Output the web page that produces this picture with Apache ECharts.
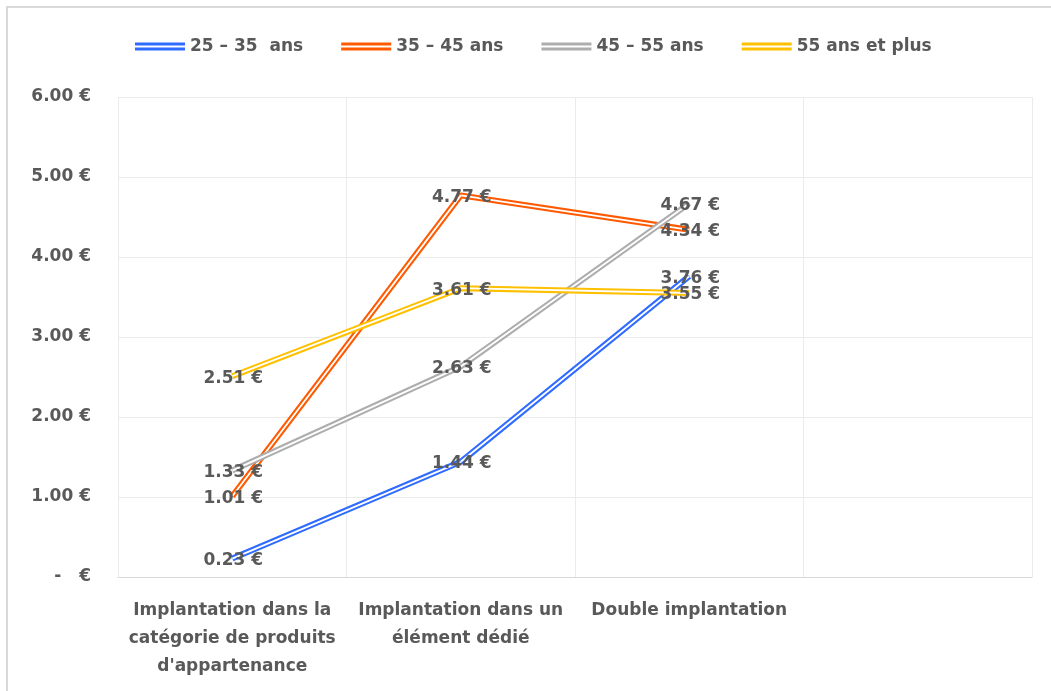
<!DOCTYPE html>
<html>
<head>
<meta charset="utf-8">
<script src="https://cdn.jsdelivr.net/npm/echarts@6/dist/echarts.min.js"></script>
<style>
html,body{margin:0;padding:0;background:#fff;}
#c{width:1051px;height:691px;}
</style>
</head>
<body>
<div id="c"></div>
<script>
const categories = [
  "Implantation dans la\ncatégorie de produits\nd'appartenance",
  "Implantation dans un\nélément dédié",
  "Double implantation",
  ""
];
const seriesNames = ["25 – 35  ans", "35 – 45 ans", "45 – 55 ans", "55 ans et plus"];
const s25_35 = [0.23, 1.44, 3.76, null];
const s35_45 = [1.01, 4.77, 4.34, null];
const s45_55 = [1.33, 2.63, 4.67, null];
const s55plus = [2.51, 3.61, 3.55, null];
const yTicks = [0, 1, 2, 3, 4, 5, 6];

const seriesData = [s25_35, s35_45, s45_55, s55plus];
const colors = ["#2F6BFF", "#FF5A00", "#ADADAD", "#FFC000"];
const FONT = "DejaVu Sans";
const TXT = "#595959";

function fmtEuro(v) {
  if (v === 0) return "-   €";
  return v.toFixed(2) + " €";
}

const series = [];
seriesData.forEach((d, i) => {
  series.push({
    name: seriesNames[i],
    type: "line",
    data: d,
    symbol: "circle",
    symbolSize: 1,
    showSymbol: true,
    itemStyle: { color: colors[i] },
    lineStyle: { color: colors[i], width: 6 },
    label: { show: false },
    emphasis: { disabled: true },
    silent: true,
    animation: false
  });
  series.push({
    name: seriesNames[i] + "_inner",
    type: "line",
    data: d,
    symbol: "circle",
    symbolSize: 1,
    showSymbol: true,
    itemStyle: { color: "#ffffff" },
    lineStyle: { color: "#ffffff", width: 1.8 },
    label: {
      show: true,
      position: "inside",
      offset: [1, 2],
      formatter: p => fmtEuro(p.value),
      fontFamily: FONT,
      fontWeight: "bold",
      fontSize: 17,
      color: TXT
    },
    emphasis: { disabled: true },
    silent: true,
    animation: false
  });
});

const chart = echarts.init(document.getElementById("c"), null, { renderer: "canvas" });
chart.setOption({
  backgroundColor: "#ffffff",
  animation: false,
  textStyle: { fontFamily: FONT },
  graphic: [
    { type: "polyline", silent: true, shape: { points: [[7, 691], [7, 7], [1051, 7]] },
      style: { stroke: "#D9D9D9", lineWidth: 2, fill: null } }
  ],
  legend: {
    data: seriesNames,
    left: 130,
    top: 33,
    itemWidth: 50,
    itemHeight: 8,
    itemGap: 38,
    icon: "path://M0,0H50V3H0Z M0,5H50V8H0Z",
    textStyle: { fontFamily: FONT, fontWeight: "bold", fontSize: 17, color: TXT },
    selectedMode: false
  },
  grid: { left: 118, right: 19, top: 97, bottom: 114, containLabel: false },
  xAxis: {
    type: "category",
    data: categories,
    boundaryGap: true,
    axisLine: { show: true, lineStyle: { color: "#D9D9D9", width: 1 } },
    axisTick: { show: false },
    splitLine: { show: true, lineStyle: { color: "#EBEBEB", width: 1 } },
    axisLabel: {
      interval: 0,
      margin: 20,
      fontFamily: FONT,
      fontWeight: "bold",
      fontSize: 17,
      lineHeight: 28,
      color: TXT,
      align: "center"
    }
  },
  yAxis: {
    type: "value",
    min: 0,
    max: 6,
    interval: 1,
    axisLine: { show: false },
    axisTick: { show: false },
    splitLine: { show: true, lineStyle: { color: "#EBEBEB", width: 1 } },
    axisLabel: {
      margin: 27,
      fontFamily: FONT,
      fontWeight: "bold",
      fontSize: 17,
      color: TXT,
      formatter: v => yTicks.indexOf(v) >= 0 ? fmtEuro(v) : ""
    }
  },
  series: series
});
</script>
</body>
</html>
